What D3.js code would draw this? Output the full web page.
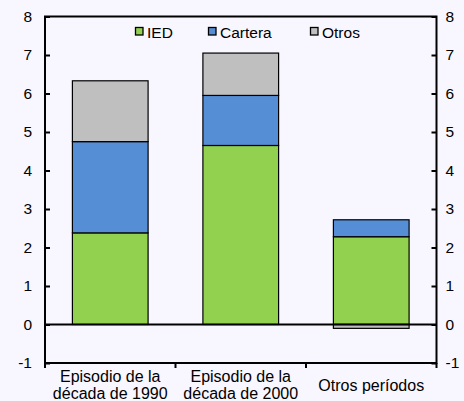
<!DOCTYPE html>
<html>
<head>
<meta charset="utf-8">
<script src="https://cdn.jsdelivr.net/npm/d3@7"></script>
<style>
  body { margin: 0; background: #f8f6fe; }
  text { font-family: "Liberation Sans", Arial, sans-serif; }
</style>
</head>
<body>
<div id="chart"></div>
<script>
// Categories and series values
const categories = [
  ["Episodio de la", "década de 1990"],
  ["Episodio de la", "década de 2000"],
  ["Otros períodos"]
];
const seriesNames = ["IED", "Cartera", "Otros"];
const ied = [2.38, 4.65, 2.28];
const cartera = [2.37, 1.30, 0.44];
const otros = [1.58, 1.10, -0.10];
const yTicks = [-1, 0, 1, 2, 3, 4, 5, 6, 7, 8];

const colors = { IED: "#92d050", Cartera: "#558ed5", Otros: "#bfbfbf" };

const width = 464, height = 401;
const margin = { top: 16.5, right: 27.5, bottom: 38, left: 45 };

const svg = d3.select("#chart").append("svg")
  .attr("width", width)
  .attr("height", height);

const x = d3.scaleBand()
  .domain(d3.range(categories.length))
  .range([margin.left, width - margin.right])
  .paddingInner(0.42)
  .paddingOuter(0.21);

const y = d3.scaleLinear()
  .domain([-1, 8])
  .range([height - margin.bottom, margin.top]);

// build stacked rows, positives go up and negatives go down
const rows = categories.map((c, i) => ({ IED: ied[i], Cartera: cartera[i], Otros: otros[i] }));
const stack = d3.stack().keys(seriesNames).offset(d3.stackOffsetDiverging);
const layers = stack(rows);

svg.append("g")
  .selectAll("g")
  .data(layers)
  .join("g")
  .attr("fill", d => colors[d.key])
  .selectAll("rect")
  .data(d => d.map((v, i) => ({ v, i })))
  .join("rect")
  .attr("x", d => x(d.i))
  .attr("width", x.bandwidth())
  .attr("y", d => y(Math.max(d.v[0], d.v[1])))
  .attr("height", d => Math.abs(y(d.v[0]) - y(d.v[1])))
  .attr("stroke", "#000")
  .attr("stroke-width", 1.2);

// frame of the plot
const x0 = margin.left, x1 = width - margin.right;
svg.append("rect")
  .attr("x", x0).attr("y", y(8))
  .attr("width", x1 - x0).attr("height", y(-1) - y(8))
  .attr("fill", "none").attr("stroke", "#000").attr("stroke-width", 2);

// zero line
svg.append("line")
  .attr("x1", x0).attr("x2", x1)
  .attr("y1", y(0)).attr("y2", y(0))
  .attr("stroke", "#000").attr("stroke-width", 2);

// left and right axes: inward ticks, labels outside, plain hyphen for negatives
const leftAxis = d3.axisLeft(y).tickValues(yTicks).tickSize(-5).tickPadding(13).tickFormat(d => String(d));
const rightAxis = d3.axisRight(y).tickValues(yTicks).tickSize(-5).tickPadding(9).tickFormat(d => String(d));

svg.append("g")
  .attr("transform", `translate(${x0},0)`)
  .call(leftAxis)
  .call(g => g.select(".domain").remove());

svg.append("g")
  .attr("transform", `translate(${x1},0)`)
  .call(rightAxis)
  .call(g => g.select(".domain").remove());

svg.selectAll(".tick line").attr("stroke", "#000").attr("stroke-width", 2);
svg.selectAll(".tick text")
  .attr("fill", "#000")
  .style("font-size", "15.5px")
  .style("font-family", "'Liberation Sans', Arial, sans-serif");

// category separators below the bottom line
const sepX = d3.range(categories.length + 1).map(i => x0 + i * (x1 - x0) / categories.length);
svg.append("g")
  .selectAll("line")
  .data(sepX)
  .join("line")
  .attr("x1", d => d).attr("x2", d => d)
  .attr("y1", y(-1)).attr("y2", y(-1) + 5)
  .attr("stroke", "#000").attr("stroke-width", 2);

// category labels
const catG = svg.append("g")
  .selectAll("text")
  .data(categories)
  .join("text")
  .attr("text-anchor", "middle")
  .style("font-size", "16px")
  .attr("fill", "#000")
  .attr("x", (d, i) => x(i) + x.bandwidth() / 2)
  .attr("y", d => d.length > 1 ? y(-1) + 19 : y(-1) + 27.5);

catG.selectAll("tspan")
  .data(d => d)
  .join("tspan")
  .attr("x", function () { return d3.select(this.parentNode).attr("x"); })
  .attr("dy", (d, i) => i === 0 ? 0 : 16.5)
  .text(d => d);

// legend
const legendX = [135.5, 208.5, 310.5];
const legend = svg.append("g")
  .selectAll("g")
  .data(seriesNames)
  .join("g")
  .attr("transform", (d, i) => `translate(${legendX[i]},27.5)`);

legend.append("rect")
  .attr("width", 7.5).attr("height", 7.5)
  .attr("fill", d => colors[d])
  .attr("stroke", "#000").attr("stroke-width", 1.3);

legend.append("text")
  .attr("x", 11.5).attr("y", 10.8)
  .style("font-size", "15.5px")
  .attr("fill", "#000")
  .text(d => d);
</script>
</body>
</html>
